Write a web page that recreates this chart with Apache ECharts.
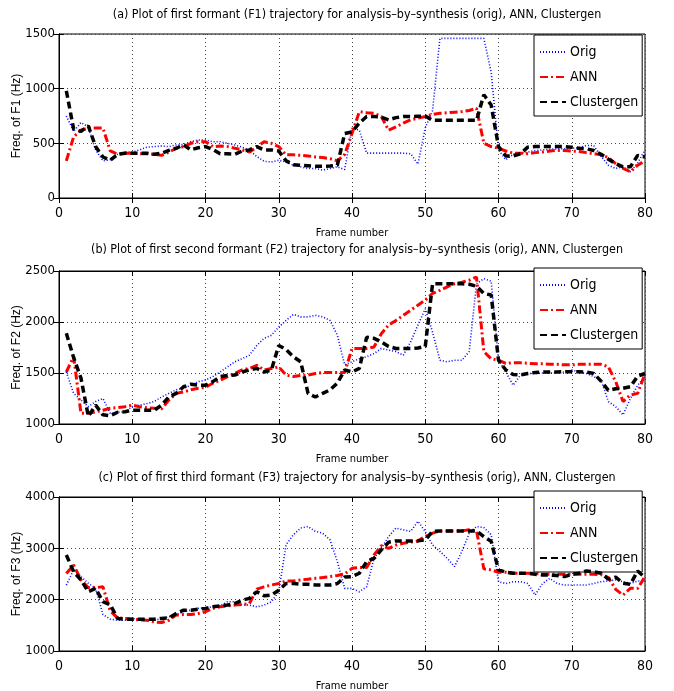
<!DOCTYPE html>
<html>
<head>
<meta charset="utf-8">
<script src="https://cdn.jsdelivr.net/npm/echarts@6/dist/echarts.min.js"></script>
<style>
  html, body { margin: 0; padding: 0; background: #fff; }
  #main { width: 674px; height: 691px; }
</style>
</head>
<body>
<div id="main"></div>
<script>
// frame index on the x axis
var frames = Array.from({ length: 80 }, function (_, i) { return i + 1; });
var seriesNames = ['Orig', 'ANN', 'Clustergen'];

// (a) F1
var f1Orig = [750, 610, 690, 650, 440, 340, 350, 400, 420, 420,
  440, 465, 470, 475, 470, 485, 490, 515, 530, 530,
  515, 515, 500, 485, 465, 435, 380, 335, 330, 345,
  330, 300, 285, 270, 270, 255, 270, 285, 260, 640,
  620, 410, 410, 410, 410, 410, 410, 405, 310, 640,
  800, 1460, 1460, 1460, 1460, 1460, 1460, 1460, 1150, 440,
  350, 400, 410, 420, 435, 440, 445, 450, 450, 455,
  460, 480, 480, 380, 300, 270, 285, 240, 320, 440];
var f1Ann = [340, 560, 620, 640, 640, 640, 430, 400, 410, 410,
  405, 405, 400, 390, 420, 455, 470, 500, 515, 515,
  470, 475, 470, 455, 440, 420, 465, 515, 500, 470,
  395, 395, 390, 385, 375, 370, 360, 340, 400, 590,
  790, 780, 775, 745, 620, 650, 685, 715, 730, 745,
  765, 775, 780, 785, 790, 800, 820, 500, 470, 455,
  430, 410, 410, 405, 415, 420, 430, 435, 435, 430,
  425, 415, 405, 395, 370, 315, 270, 240, 300, 340];
var f1Clus = [980, 630, 610, 660, 470, 375, 345, 400, 410, 410,
  410, 410, 400, 410, 435, 455, 485, 440, 460, 470,
  445, 405, 405, 400, 430, 440, 470, 440, 440, 430,
  340, 305, 300, 295, 290, 290, 292, 300, 590, 605,
  685, 745, 745, 740, 715, 735, 745, 745, 748, 750,
  710, 710, 710, 710, 710, 710, 710, 945, 850, 470,
  385, 385, 405, 465, 470, 470, 470, 470, 470, 465,
  455, 450, 435, 400, 355, 315, 285, 285, 390, 375];

// (b) F2
var f2Orig = [1510, 1300, 1235, 1170, 1220, 1250, 1105, 1115, 1120, 1170,
  1185, 1200, 1220, 1265, 1300, 1335, 1350, 1380, 1415, 1430,
  1465, 1510, 1560, 1610, 1640, 1675, 1770, 1840, 1870, 1950,
  2015, 2075, 2050, 2050, 2065, 2050, 2015, 1870, 1580, 1610,
  1640, 1660, 1690, 1740, 1725, 1710, 1675, 1805, 1970, 2130,
  1900, 1625, 1610, 1625, 1625, 1710, 2375, 2425, 2400, 1625,
  1510, 1380, 1480, 1495, 1495, 1500, 1500, 1505, 1510, 1530,
  1510, 1495, 1465, 1430, 1220, 1170, 1090, 1250, 1380, 1465];
var f2Ann = [1510, 1660, 1105, 1105, 1120, 1135, 1155, 1160, 1170, 1185,
  1170, 1160, 1155, 1150, 1235, 1300, 1315, 1335, 1350, 1360,
  1400, 1430, 1465, 1495, 1530, 1545, 1575, 1530, 1545, 1560,
  1480, 1465, 1475, 1480, 1495, 1505, 1505, 1505, 1505, 1740,
  1740, 1740, 1755, 1885, 1970, 2015, 2065, 2115, 2165, 2215,
  2280, 2310, 2345, 2375, 2390, 2410, 2440, 1710, 1640, 1625,
  1595, 1600, 1600, 1595, 1590, 1590, 1585, 1585, 1580, 1580,
  1585, 1585, 1585, 1585, 1560, 1415, 1220, 1285, 1300, 1495];
var f2Clus = [1890, 1650, 1450, 1075, 1185, 1090, 1080, 1115, 1120, 1135,
  1135, 1135, 1135, 1185, 1265, 1300, 1365, 1390, 1380, 1380,
  1415, 1465, 1475, 1480, 1510, 1530, 1545, 1510, 1530, 1770,
  1730, 1660, 1610, 1300, 1265, 1300, 1335, 1400, 1530, 1510,
  1545, 1850, 1840, 1805, 1760, 1740, 1740, 1740, 1745, 1760,
  2375, 2375, 2375, 2375, 2375, 2370, 2350, 2280, 2265, 1625,
  1530, 1485, 1480, 1495, 1505, 1510, 1510, 1510, 1512, 1512,
  1512, 1510, 1495, 1420, 1330, 1345, 1350, 1365, 1470, 1495];

// (c) F3
var f3Orig = [2285, 2580, 2450, 2320, 2220, 1710, 1620, 1600, 1600, 1630,
  1620, 1600, 1600, 1630, 1665, 1710, 1765, 1795, 1830, 1840,
  1860, 1880, 1960, 1960, 1895, 1895, 1860, 1895, 1960, 2155,
  3070, 3265, 3395, 3425, 3330, 3295, 3165, 2740, 2220, 2220,
  2155, 2250, 2800, 3000, 3230, 3395, 3360, 3330, 3525, 3330,
  3065, 2940, 2805, 2645, 2940, 3295, 3425, 3405, 3265, 2350,
  2315, 2350, 2350, 2315, 2090, 2315, 2415, 2315, 2285, 2285,
  2285, 2285, 2315, 2350, 2365, 2385, 2350, 2315, 2365, 2365];
var f3Ann = [2510, 2675, 2385, 2235, 2235, 2250, 1780, 1645, 1635, 1620,
  1605, 1600, 1565, 1555, 1600, 1700, 1710, 1710, 1730, 1765,
  1830, 1860, 1880, 1895, 1905, 1925, 2205, 2250, 2285, 2315,
  2365, 2365, 2385, 2400, 2415, 2430, 2450, 2470, 2500, 2610,
  2625, 2625, 2870, 3050, 3000, 3065, 3100, 3120, 3145, 3230,
  3295, 3340, 3340, 3340, 3340, 3360, 3340, 2600, 2580, 2535,
  2535, 2515, 2515, 2515, 2515, 2495, 2495, 2495, 2495, 2495,
  2495, 2495, 2495, 2490, 2430, 2200, 2090, 2220, 2220, 2450];
var f3Clus = [2870, 2545, 2385, 2155, 2220, 1960, 1900, 1635, 1620, 1620,
  1620, 1620, 1620, 1635, 1645, 1730, 1795, 1795, 1815, 1830,
  1860, 1880, 1895, 1925, 1990, 2025, 2155, 2075, 2090, 2185,
  2315, 2315, 2300, 2300, 2285, 2285, 2285, 2315, 2440, 2450,
  2515, 2740, 2805, 2970, 3120, 3145, 3145, 3145, 3145, 3165,
  3330, 3340, 3340, 3340, 3340, 3340, 3340, 3230, 3135, 2580,
  2535, 2515, 2515, 2515, 2495, 2480, 2480, 2470, 2450, 2495,
  2515, 2560, 2545, 2515, 2400, 2440, 2320, 2300, 2560, 2430];

var titles = [
  '(a) Plot of first formant (F1) trajectory for analysis\u2013by\u2013synthesis (orig), ANN, Clustergen',
  '(b) Plot of first second formant (F2) trajectory for analysis\u2013by\u2013synthesis (orig), ANN, Clustergen',
  '(c) Plot of first third formant (F3) trajectory for analysis\u2013by\u2013synthesis (orig), ANN, Clustergen'
];
var yNames = ['Freq. of F1 (Hz)', 'Freq. of F2 (Hz)', 'Freq. of F3 (Hz)'];
var yRanges = [[0, 1500, 500], [1000, 2500, 500], [1000, 4000, 1000]];
var panelData = [
  [f1Orig, f1Ann, f1Clus],
  [f2Orig, f2Ann, f2Clus],
  [f3Orig, f3Ann, f3Clus]
];

var narrow = "'Liberation Sans Narrow', 'DejaVu Sans Condensed', 'Liberation Sans', sans-serif";
var gridTops = [34, 271, 497];
var gridHeights = [164, 153, 154];
var titleTops = [4, 239, 467];
var legendTops = [35, 268, 491];

var lineStyles = [
  { color: '#0000ff', width: 1.6, type: [1, 2] },
  { color: '#ff0000', width: 3, type: [8, 3, 2, 3] },
  { color: '#000000', width: 3.5, type: [7, 4] }
];

function plain(v) { return String(v); }

var option = {
  animation: false,
  backgroundColor: '#fff',
  title: [],
  grid: [],
  xAxis: [],
  yAxis: [],
  legend: [],
  series: []
};

for (var p = 0; p < 3; p++) {
  option.title.push({
    text: titles[p],
    left: 352,
    top: titleTops[p],
    textAlign: 'center',
    textStyle: { fontFamily: narrow, fontSize: 12.4, fontWeight: 'normal', color: '#000' }
  });
  option.grid.push({
    left: 59, right: 29, top: gridTops[p], height: gridHeights[p],
    outerBoundsMode: 'none', containLabel: false,
    show: true, borderColor: '#000', borderWidth: 1, backgroundColor: '#fff'
  });
  var xBase = {
    type: 'value', gridIndex: p, min: 0, max: 80, interval: 10,
    axisLine: { show: true, lineStyle: { color: '#000', width: 1 } },
    axisTick: { show: true, inside: true, length: 5, lineStyle: { color: '#000' } }
  };
  option.xAxis.push(Object.assign({}, xBase, {
    position: 'bottom',
    name: 'Frame number', nameLocation: 'middle', nameGap: 30,
    nameTextStyle: { fontFamily: narrow, fontSize: 11, color: '#000' },
    axisLabel: { fontFamily: narrow, fontSize: 14, color: '#000', margin: 8, formatter: plain },
    splitLine: { show: true, lineStyle: { color: '#444', type: [1, 3], width: 1 } }
  }));
  option.xAxis.push(Object.assign({}, xBase, {
    position: 'top', axisLabel: { show: false }, splitLine: { show: false }
  }));
  var r = yRanges[p];
  var yBase = {
    type: 'value', gridIndex: p, min: r[0], max: r[1], interval: r[2],
    axisLine: { show: true, lineStyle: { color: '#000', width: 1 } },
    axisTick: { show: true, inside: true, length: 5, lineStyle: { color: '#000' } }
  };
  option.yAxis.push(Object.assign({}, yBase, {
    position: 'left',
    name: yNames[p], nameLocation: 'middle', nameGap: 36, nameMoveOverlap: false,
    nameTextStyle: { fontFamily: "'Liberation Sans', sans-serif", fontSize: 12, color: '#000' },
    axisLabel: { fontFamily: narrow, fontSize: 13, color: '#000', margin: 4, formatter: plain },
    splitLine: { show: true, lineStyle: { color: '#444', type: [1, 3], width: 1 } }
  }));
  option.yAxis.push(Object.assign({}, yBase, {
    position: 'right', axisLabel: { show: false }, splitLine: { show: false }
  }));
  option.legend.push({
    data: seriesNames,
    orient: 'vertical',
    left: 534, top: legendTops[p],
    itemWidth: 26, itemHeight: 14, itemGap: 9,
    padding: [9, 4, 6, 5],
    selectedMode: false,
    borderColor: '#000', borderWidth: 1, backgroundColor: '#fff',
    itemStyle: { opacity: 0, color: 'transparent', borderWidth: 0 },
    textStyle: { fontFamily: narrow, fontSize: 14, color: '#000', lineHeight: 16, padding: [0, 0, 0, -1] }
  });
  for (var s = 0; s < 3; s++) {
    var vals = panelData[p][s];
    option.series.push({
      name: seriesNames[s],
      type: 'line',
      xAxisIndex: p * 2,
      yAxisIndex: p * 2,
      symbol: 'none',
      z: 2 + s,
      lineStyle: lineStyles[s],
      itemStyle: { color: lineStyles[s].color },
      data: frames.map(function (f, i) { return [f, vals[i]]; })
    });
  }
}

var myChart = echarts.init(document.getElementById('main'), null, { renderer: 'canvas' });
myChart.setOption(option);
</script>
</body>
</html>
